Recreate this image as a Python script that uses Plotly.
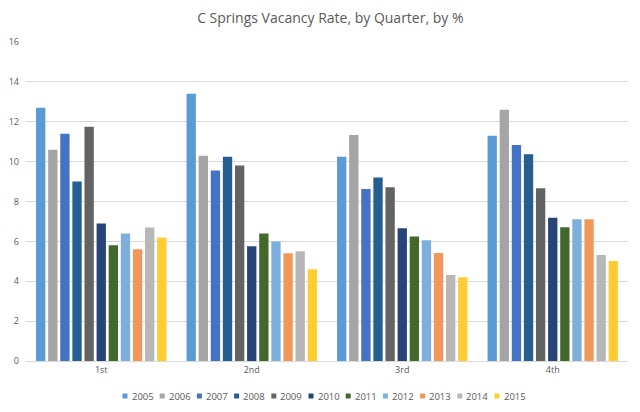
import plotly.graph_objects as go

quarters = ["1st", "2nd", "3rd", "4th"]
years = ["2005", "2006", "2007", "2008", "2009", "2010",
         "2011", "2012", "2013", "2014", "2015"]

# vacancy rate (%) per year, one value per quarter
rates = {
    "2005": [12.7, 13.4, 10.25, 11.3],
    "2006": [10.6, 10.3, 11.33, 12.6],
    "2007": [11.4, 9.55, 8.63, 10.83],
    "2008": [9.0, 10.25, 9.2, 10.37],
    "2009": [11.75, 9.8, 8.72, 8.67],
    "2010": [6.9, 5.75, 6.66, 7.18],
    "2011": [5.8, 6.4, 6.24, 6.71],
    "2012": [6.4, 6.0, 6.06, 7.11],
    "2013": [5.6, 5.4, 5.42, 7.11],
    "2014": [6.7, 5.5, 4.31, 5.32],
    "2015": [6.2, 4.6, 4.2, 5.01],
}

colors = ["#5B9BD5", "#A5A5A5", "#4472C4", "#255E91", "#636363", "#264478",
          "#43682B", "#7CAFDD", "#F1975A", "#B7B7B7", "#FFCD33"]

# page body adds an 8px offset, so the figure is sized to the visible area
OFF = 8
W, H = 640 - OFF, 412 - OFF
L, R, T, B = 26 - OFF, 12, 42 - OFF, 51
pw, ph = W - L - R, H - T - B

fig = go.Figure()
for year, color in zip(years, colors):
    fig.add_trace(go.Bar(x=quarters, y=rates[year], name=year,
                         marker=dict(color=color, line=dict(width=0))))

# Excel-style compact legend: small square + label, ~37px per entry
shapes, notes = [], []
legend_y = 396 - OFF
for i, (year, color) in enumerate(zip(years, colors)):
    sx = 122.5 - OFF + 37.2 * i
    shapes.append(dict(type="rect", xref="paper", yref="paper",
                       x0=(sx - L) / pw, x1=(sx + 5 - L) / pw,
                       y0=(H - B - legend_y - 2.5) / ph,
                       y1=(H - B - legend_y + 2.5) / ph,
                       fillcolor=color, line=dict(width=0)))
    notes.append(dict(text=year, xref="paper", yref="paper",
                      x=(sx + 7 - L) / pw, y=(H - B - legend_y) / ph,
                      xanchor="left", yanchor="middle", showarrow=False,
                      font=dict(size=9.5, color="#595959")))

fig.update_layout(
    width=W,
    height=H,
    paper_bgcolor="white",
    plot_bgcolor="white",
    font=dict(family="Open Sans, sans-serif", size=9, color="#595959"),
    margin=dict(l=L, r=R, t=T, b=B),
    barmode="group",
    bargap=0.115,
    bargroupgap=0.23,
    showlegend=False,
    title=dict(text="C Springs Vacancy Rate, by Quarter, by %",
               x=0.51, xanchor="center", y=0.975, yanchor="middle",
               font=dict(size=14, color="#595959")),
    xaxis=dict(showgrid=False, showline=True, linecolor="#D9D9D9",
               ticks="", tickfont=dict(size=9), automargin=False),
    yaxis=dict(range=[0, 16], dtick=2, showgrid=True, gridcolor="#D9D9D9",
               zeroline=False, ticks="", tickfont=dict(size=9),
               automargin=False, ticklabelstandoff=6),
    shapes=shapes,
    annotations=notes,
)

fig.write_html("out.html")
